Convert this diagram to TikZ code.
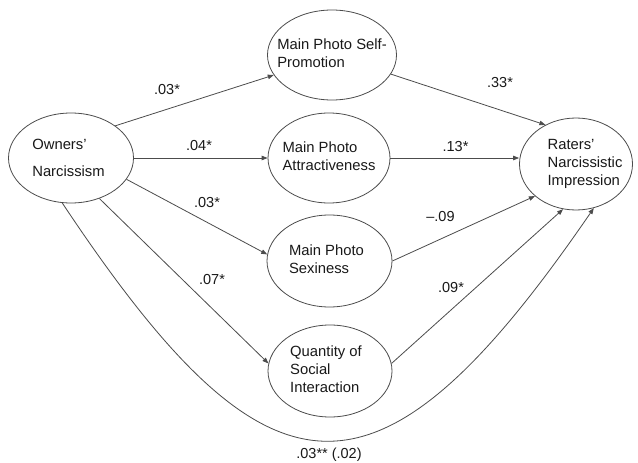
\documentclass[tikz,border=0pt]{standalone}
\usepackage{fontspec}
\setmainfont{Liberation Sans}
\usetikzlibrary{shapes.geometric,arrows.meta}
\newcommand\ellt[2][0pt]{\makebox[0pt][c]{\hspace*{#1}\begin{tabular}{@{}l@{}}#2\end{tabular}}}
\begin{document}
\begin{tikzpicture}[x=1pt,y=-1pt,
  ell/.style={ellipse, draw=black!70, line width=0.8pt, inner sep=0pt, text=black!90,
    font=\fontsize{14.8}{18}\selectfont},
  arr/.style={draw=black!70, line width=0.8pt, -{Triangle[length=6pt,width=4.5pt]}},
  lab/.style={font=\fontsize{14.5}{16}\selectfont, text=black!90, inner sep=0pt}]
\useasboundingbox[fill=white] (0,0) rectangle (638,463);

\node[ell, minimum width=125pt, minimum height=90pt, font=\fontsize{14.8}{27}\selectfont] (own) at (71,158)
  {\ellt[-5pt]{Owners'\\Narcissism}};
\node[ell, minimum width=129pt, minimum height=90pt] (sp) at (332,55)
  {\ellt{Main Photo Self-\\Promotion}};
\node[ell, minimum width=122pt, minimum height=90pt] (att) at (329,158)
  {\ellt{Main Photo\\Attractiveness}};
\node[ell, minimum width=125pt, minimum height=92pt] (sex) at (329.5,261)
  {\ellt[-6pt]{\raisebox{-5pt}{\begin{tabular}{@{}l@{}}Main Photo\\Sexiness\end{tabular}}}};
\node[ell, minimum width=124pt, minimum height=92pt] (qua) at (330,371)
  {\ellt[-8pt]{Quantity of\\Social\\Interaction}};
\node[ell, minimum width=113pt, minimum height=92pt] (rat) at (576,164)
  {\ellt[18pt]{Raters'\\Narcissistic\\Impression}};

\draw[arr] (own.36) -- (sp.199);
\draw[arr] (own.east) -- (att.west);
\draw[arr] (own.339) -- (sex.174);
\draw[arr] (own.305) -- (qua.173);
\draw[arr] (sp.342) -- (rat.128);
\draw[arr] (att.east) -- (att.east -| rat.west);
\draw[arr] (sex.east) -- (rat.218);
\draw[arr] (qua.7) -- (rat.254);
\draw[arr] (own.259) .. controls (269,514) and (377,524) .. (rat.292);

\node[lab] (l1) at (167,90) {.03*};
\node[lab] (l2) at (199,146) {.04*};
\node[lab] (l3) at (207,203) {.03*};
\node[lab] (l4) at (212,280) {.07*};
\node[lab] (l5) at (500,83) {.33*};
\node[lab] (l6) at (455.5,147) {.13*};
\node[lab] (l7) at (440.5,217) {\textendash.09};
\node[lab] (l8) at (451,288) {.09*};
\node[lab] (l9) at (329,455) {.03** (.02)};
\end{tikzpicture}
\end{document}
